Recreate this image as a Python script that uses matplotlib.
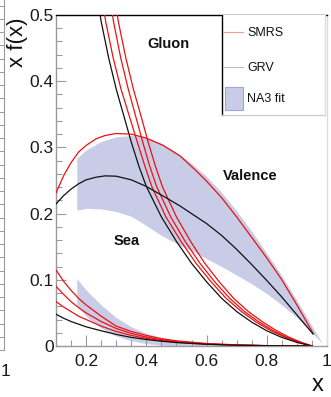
import numpy as np
import matplotlib
matplotlib.use("Agg")
import matplotlib.pyplot as plt
from matplotlib.lines import Line2D
from matplotlib.patches import Rectangle

plt.rcParams['font.family'] = ['Liberation Sans', 'DejaVu Sans']

# ---------------- data ----------------
# Gluon, GRV
GLU_X = [0.22, 0.25, 0.275, 0.30, 0.325, 0.35, 0.375, 0.40, 0.45, 0.50, 0.55,
         0.60, 0.65, 0.70, 0.75, 0.80, 0.85, 0.90, 0.95]
GLU_GRV = [0.58, 0.49, 0.435, 0.388, 0.348, 0.308, 0.272, 0.241, 0.195, 0.158,
           0.125, 0.097, 0.072, 0.052, 0.036, 0.023, 0.013, 0.0055, 0.0]
# Gluon, SMRS (three curves)
GLU_SMRS1_X = [0.235, 0.265, 0.29, 0.316, 0.343, 0.37, 0.395, 0.418, 0.465, 0.515,
               0.565, 0.615, 0.665, 0.716, 0.765, 0.814, 0.862, 0.908, 0.95]
GLU_SMRS2_X = [0.261, 0.291, 0.315, 0.34, 0.364, 0.388, 0.411, 0.434, 0.481, 0.529,
               0.578, 0.627, 0.677, 0.726, 0.775, 0.822, 0.867, 0.91, 0.95]
GLU_SMRS3_X = [0.277, 0.307, 0.332, 0.357, 0.382, 0.406, 0.43, 0.453, 0.50, 0.547,
               0.594, 0.642, 0.69, 0.739, 0.787, 0.833, 0.875, 0.915, 0.95]
GLU_SMRS_Y = [0.58, 0.49, 0.435, 0.388, 0.348, 0.308, 0.272, 0.241, 0.195, 0.158,
              0.125, 0.097, 0.072, 0.052, 0.036, 0.023, 0.013, 0.0055, 0.0]

# Valence
VAL_X = [0.10, 0.125, 0.15, 0.175, 0.20, 0.233, 0.263, 0.30, 0.35, 0.40, 0.456,
         0.512, 0.56, 0.60, 0.65, 0.70, 0.75, 0.80, 0.85, 0.90, 0.954]
VAL_GRV = [0.2145, 0.227, 0.237, 0.245, 0.251, 0.255, 0.257, 0.2565, 0.251, 0.241,
           0.2265, 0.2115, 0.197, 0.185, 0.167, 0.146, 0.123, 0.099, 0.074, 0.047, 0.018]
VAL_SMRS = [0.231, 0.257, 0.277, 0.293, 0.303, 0.313, 0.318, 0.321, 0.320, 0.314,
            0.303, 0.287, 0.267, 0.249, 0.224, 0.195, 0.164, 0.133, 0.100, 0.062, 0.019]
VAL_BAND_X = [0.169, 0.20, 0.25, 0.30, 0.35, 0.40, 0.45, 0.50, 0.55, 0.60, 0.65,
              0.70, 0.75, 0.80, 0.85, 0.90, 0.95, 0.985]
VAL_BAND_HI = [0.2835, 0.296, 0.309, 0.316, 0.318, 0.315, 0.306, 0.293, 0.276, 0.256,
               0.232, 0.204, 0.173, 0.140, 0.106, 0.069, 0.030, 0.004]
VAL_BAND_LO = [0.205, 0.208, 0.207, 0.203, 0.196, 0.182, 0.167, 0.155, 0.144, 0.132,
               0.120, 0.107, 0.094, 0.079, 0.062, 0.043, 0.020, 0.004]

# Sea
SEA_X = [0.10, 0.125, 0.15, 0.175, 0.20, 0.25, 0.30, 0.35, 0.40, 0.45, 0.50,
         0.60, 0.70, 0.80, 0.90, 0.95]
SEA_SMRS1 = [0.115, 0.098, 0.084, 0.072, 0.062, 0.045, 0.030, 0.022, 0.016, 0.011,
             0.0078, 0.0038, 0.0017, 0.0006, 0.0001, 0.0]
SEA_SMRS2 = [0.090, 0.078, 0.067, 0.058, 0.050, 0.037, 0.0265, 0.019, 0.0135, 0.0095,
             0.0066, 0.0032, 0.0014, 0.0005, 0.0001, 0.0]
SEA_SMRS3 = [0.067, 0.059, 0.052, 0.045, 0.040, 0.030, 0.022, 0.016, 0.0115, 0.008,
             0.0056, 0.0027, 0.0012, 0.0004, 0.0001, 0.0]
SEA_GRV = [0.048, 0.042, 0.037, 0.033, 0.029, 0.023, 0.0175, 0.013, 0.0098, 0.0072,
           0.0052, 0.0026, 0.0012, 0.0005, 0.0001, 0.0]
SEA_BAND_X = [0.169, 0.19, 0.21, 0.25, 0.30, 0.35, 0.40, 0.45, 0.50, 0.55, 0.60,
              0.70, 0.80, 0.95]
SEA_BAND_HI = [0.102, 0.090, 0.080, 0.062, 0.043, 0.029, 0.019, 0.013, 0.0085, 0.0055,
               0.0035, 0.0013, 0.0004, 0.0]
SEA_BAND_LO = [0.062, 0.050, 0.041, 0.027, 0.015, 0.008, 0.0035, 0.0012, 0.0003, 0.0,
               0.0, 0.0, 0.0, 0.0]

X_TICKS = [0.2, 0.4, 0.6, 0.8, 1.0]
X_TICK_LABELS = ["0.2", "0.4", "0.6", "0.8", "1"]
Y_TICKS = [0.0, 0.1, 0.2, 0.3, 0.4, 0.5]
Y_TICK_LABELS = ["0", "0.1", "0.2", "0.3", "0.4", "0.5"]

LEGEND_LABELS = ["SMRS", "GRV", "NA3 fit"]
REGION_LABELS = [("Gluon", 0.472, 0.456), ("Valence", 0.744, 0.257), ("Sea", 0.336, 0.159)]

# ---------------- style ----------------
RED = "#ee1111"
BLACK = "#111111"
BAND = "#c9cce6"
GRAY = "#9a9a9a"
LW = 0.9

W, H = 331, 397
fig = plt.figure(figsize=(W / 100, H / 100), dpi=100)
L, R, T, B = 56, 327, 15, 346
ax = fig.add_axes([L / W, 1 - B / H, (R - L) / W, (B - T) / H])

ax.fill_between(VAL_BAND_X, VAL_BAND_LO, VAL_BAND_HI, color=BAND, lw=0, zorder=1)
ax.fill_between(SEA_BAND_X, SEA_BAND_LO, SEA_BAND_HI, color=BAND, lw=0, zorder=1)

for xs in (GLU_SMRS1_X, GLU_SMRS2_X, GLU_SMRS3_X):
    ax.plot(xs, GLU_SMRS_Y, color=RED, lw=LW, zorder=3)
ax.plot(GLU_X, GLU_GRV, color=BLACK, lw=LW, zorder=3)

ax.plot(VAL_X, VAL_SMRS, color=RED, lw=LW, zorder=3)
ax.plot(VAL_X, VAL_GRV, color=BLACK, lw=LW, zorder=3)

for ys in (SEA_SMRS1, SEA_SMRS2, SEA_SMRS3):
    ax.plot(SEA_X, ys, color=RED, lw=LW, zorder=3)
ax.plot(SEA_X, SEA_GRV, color=BLACK, lw=LW, zorder=3)

ax.set_xlim(0.1, 1.0)
ax.set_ylim(0.0, 0.5)

ax.set_xticks(X_TICKS)
ax.set_xticklabels(X_TICK_LABELS)
ax.set_yticks(Y_TICKS)
ax.set_yticklabels(Y_TICK_LABELS)
ax.set_xticks(np.arange(0.1, 1.0001, 0.05), minor=True)
ax.set_yticks(np.arange(0.0, 0.5001, 0.02), minor=True)
ax.tick_params(which='both', direction='in', color=GRAY, width=0.8,
               labelsize=12.5, labelcolor='#1a1a1a', top=False, right=False)
ax.tick_params(axis='y', which='major', length=7, pad=1.5)
ax.tick_params(axis='y', which='minor', length=4)
ax.tick_params(axis='x', which='major', length=8, pad=6)
ax.tick_params(axis='x', which='minor', length=4)

ax.spines['left'].set_color(GRAY)
ax.spines['bottom'].set_color(GRAY)
ax.spines['right'].set_color('#dddddd')
ax.spines['top'].set_color('black')
for s in ax.spines.values():
    s.set_linewidth(1.0)

for txt, tx, ty in REGION_LABELS:
    ax.text(tx, ty, txt, fontsize=10.5, fontweight='bold', ha='center', va='center',
            color='#111111', zorder=5)

# legend box (drawn in axes fraction)
def axx(px):
    return (px - L) / (R - L)

def axy(py):
    return (B - py) / (B - T)

tr = ax.transAxes
ax.add_patch(Rectangle((axx(222), axy(115)), axx(325) - axx(222), axy(15) - axy(115),
                       transform=tr, facecolor='white', edgecolor='none', zorder=6))
ax.add_line(Line2D([axx(222), axx(222)], [axy(115), axy(15)], transform=tr, color='black', lw=1.0, zorder=7))
ax.add_line(Line2D([axx(222), axx(325)], [axy(115), axy(115)], transform=tr, color='#cccccc', lw=1.0, zorder=7))
ax.add_line(Line2D([axx(325), axx(325)], [axy(115), axy(15)], transform=tr, color='#dddddd', lw=1.0, zorder=7))
ax.add_line(Line2D([axx(223), axx(243)], [axy(32), axy(32)], transform=tr, color='#f29a9a', lw=0.8, zorder=7))
ax.add_line(Line2D([axx(223), axx(243)], [axy(67), axy(67)], transform=tr, color='#bbbbbb', lw=0.8, zorder=7))
ax.add_patch(Rectangle((axx(225), axy(110)), axx(243) - axx(225), axy(87) - axy(110),
                       transform=tr, facecolor=BAND, edgecolor='#9fa6d6', lw=0.8, zorder=7))
for lab, py in zip(LEGEND_LABELS, [33, 68, 99]):
    ax.text(axx(247), axy(py), lab, transform=tr, fontsize=9, ha='left', va='center',
            color='#111111', zorder=8)

# axis titles
fig.text(318 / W, 1 - 385 / H, "x", fontsize=17, ha='center', va='center', color='#111111')
fig.text(17 / W, 1 - 42 / H, "x f(x)", fontsize=16, rotation=90, ha='center', va='center',
         color='#111111')

# neighbouring panel edge (cut off at the left)
fig.add_artist(Line2D([3.5 / W, 3.5 / W], [1 - 350 / H, 1.0], color=GRAY, lw=0.8))
for py in np.arange(350, 0, -13.24):
    fig.add_artist(Line2D([0, 3.5 / W], [1 - py / H, 1 - py / H], color=GRAY, lw=0.7))
fig.text(0.5 / W, 1 - 372 / H, "1", fontsize=12.5, ha='left', va='center', color='#1a1a1a')

fig.savefig("out.png", dpi=100)
